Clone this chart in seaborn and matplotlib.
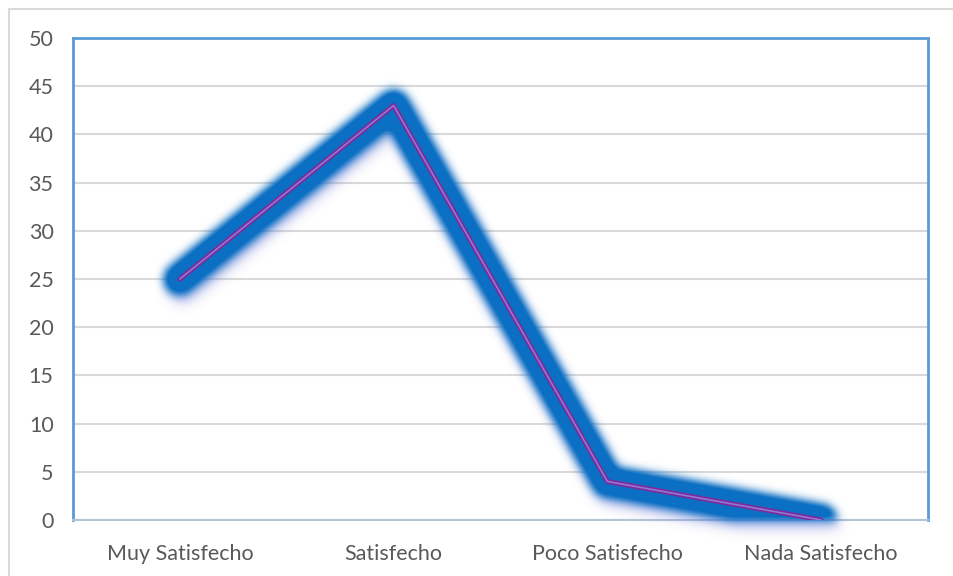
import numpy as np
import pandas as pd
import matplotlib
matplotlib.use("Agg")
import matplotlib.pyplot as plt
from matplotlib.patches import Rectangle
import seaborn as sns

categories = ["Muy Satisfecho", "Satisfecho", "Poco Satisfecho", "Nada Satisfecho"]
values = [25, 43, 4, 0]
y_ticks = [0, 5, 10, 15, 20, 25, 30, 35, 40, 45, 50]

df = pd.DataFrame({"categoria": categories, "valor": values})

sns.set_theme(style="white")
plt.rcParams["font.family"] = ["Lato", "DejaVu Sans"]

W, H = 954, 576
fig = plt.figure(figsize=(W / 100, H / 100), dpi=100)
fig.patch.set_facecolor("white")
ax = fig.add_axes([73 / W, (H - 520) / H, (928 - 73) / W, (520 - 38) / H])


def _gauss_blur(a, sigma):
    r = int(3 * sigma)
    k = np.exp(-0.5 * (np.arange(-r, r + 1) / sigma) ** 2)
    k /= k.sum()
    a = np.apply_along_axis(lambda v: np.convolve(v, k, mode="same"), 0, a)
    a = np.apply_along_axis(lambda v: np.convolve(v, k, mode="same"), 1, a)
    return a


def soft_glow(color, sigma, alpha=1.0, offset=(0, 0)):
    rgb = np.array(matplotlib.colors.to_rgb(color))

    def _filter(im, dpi):
        pad = int(3 * sigma) + 2 + max(abs(offset[0]), abs(offset[1]))
        a = np.pad(im[:, :, 3], pad)
        a = np.clip(_gauss_blur(a, sigma) * alpha, 0, 1)
        out = np.empty(a.shape + (4,))
        out[:, :, :3] = rgb
        out[:, :, 3] = a
        return out, -pad + offset[0], -pad + offset[1]

    return _filter


def add_line(lw, color, z, agg=None):
    sns.lineplot(data=df, x="categoria", y="valor", sort=False, ax=ax,
                 color=color, linewidth=lw, zorder=z)
    ln = ax.lines[-1]
    ln.set_solid_capstyle("round")
    ln.set_solid_joinstyle("round")
    if agg is not None:
        ln.set_agg_filter(agg)
        ln.set_rasterized(True)
    return ln


# soft shadow beneath the stroke
add_line(22, "#7f86d8", 3, soft_glow("#8a8fe0", 6, 0.5, offset=(3, -9)))
# blurred blue stroke
add_line(23, "#0a6cc0", 4, soft_glow("#0b6fc3", 4.5, 1.3))
# thin purple core line with a pale centre
add_line(3.6, "#7e2a9c", 5)
add_line(1.2, "#8f78d2", 6)

ax.set_xlim(-0.5, len(categories) - 0.5)
ax.set_ylim(0, 50)
ax.set_yticks(y_ticks)
ax.set_xlabel("")
ax.set_ylabel("")
ax.grid(axis="y", color="#d9d9d9", linewidth=1.5, zorder=0)
ax.grid(axis="x", visible=False)
ax.set_axisbelow(True)

for side in ("left", "top", "right"):
    ax.spines[side].set_color("#5b9bd5")
    ax.spines[side].set_linewidth(2)
ax.spines["bottom"].set_color("#b4c4d6")
ax.spines["bottom"].set_linewidth(1.5)

ax.tick_params(axis="both", length=0, labelsize=15.5, labelcolor="#595959")
ax.tick_params(axis="y", pad=14)
ax.tick_params(axis="x", pad=17)

# outer chart frame
fig.add_artist(Rectangle((9.5 / W, -0.1), 1.2, (H - 8.5) / H + 0.1,
                         transform=fig.transFigure, fill=False,
                         edgecolor="#d9d9d9", linewidth=1.5))

fig.savefig("out.png", dpi=100, facecolor="white")
